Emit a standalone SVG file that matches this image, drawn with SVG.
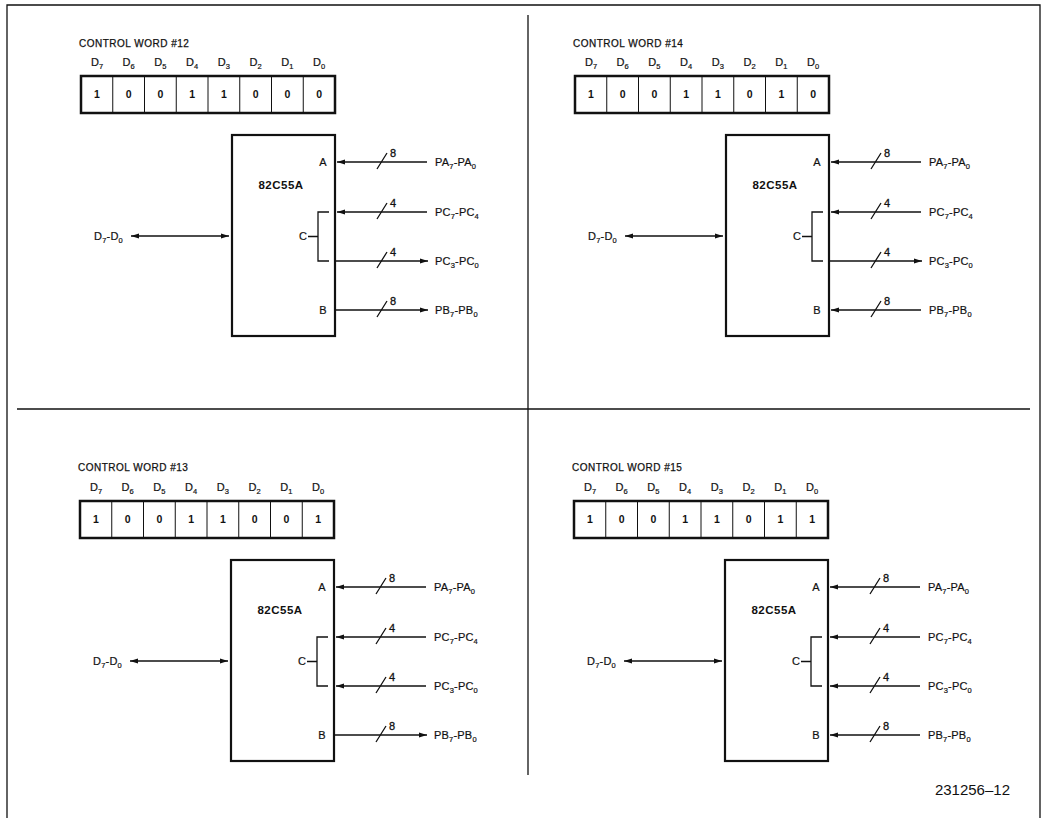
<svg xmlns="http://www.w3.org/2000/svg" width="1042" height="818" viewBox="0 0 1042 818">
<style>
text { font-family: "Liberation Sans", Arial, Helvetica, sans-serif; fill: #111; }
.title { font-size: 10px; letter-spacing: 0.5px; stroke: #111; stroke-width: 0.25px; }
.dl { font-size: 11px; text-anchor: middle; stroke: #111; stroke-width: 0.2px; }
.sub { font-size: 7.5px; }
.bit { font-size: 10.5px; font-weight: bold; text-anchor: middle; }
.chipname { font-size: 11.5px; font-weight: bold; text-anchor: middle; letter-spacing: 0.5px; }
.port { font-size: 11px; text-anchor: middle; stroke: #111; stroke-width: 0.2px; }
.num { font-size: 11px; stroke: #111; stroke-width: 0.3px; }
.pl { font-size: 11px; letter-spacing: 0.2px; stroke: #111; stroke-width: 0.2px; }
.frame { fill: none; stroke: #111; stroke-width: 1.3; }
.reg { fill: #fff; stroke: #111; stroke-width: 2.5; }
.cell { stroke: #111; stroke-width: 1; }
.chip { fill: #fff; stroke: #111; stroke-width: 2.2; }
.wire { fill: none; stroke: #111; stroke-width: 1.3; }
.arr { marker-end: url(#ah); }
.bi { marker-start: url(#ah); marker-end: url(#ah); }
</style>
<defs>
<marker id="ah" markerUnits="userSpaceOnUse" markerWidth="9" markerHeight="6" refX="8" refY="3" orient="auto-start-reverse">
<path d="M0,0.6 L8,3 L0,5.4 Z" fill="#111"/>
</marker>
<g id="regcells">
<rect class="reg" x="81" y="76" width="254" height="37"/>
<path class="cell" d="M112.75,76V113M144.5,76V113M176.25,76V113M208,76V113M239.75,76V113M271.5,76V113M303.25,76V113"/>
</g>
<g id="dlabels">
<text class="dl" x="97" y="66">D<tspan class="sub" dy="3">7</tspan></text>
<text class="dl" x="128.6" y="66">D<tspan class="sub" dy="3">6</tspan></text>
<text class="dl" x="160.4" y="66">D<tspan class="sub" dy="3">5</tspan></text>
<text class="dl" x="192.1" y="66">D<tspan class="sub" dy="3">4</tspan></text>
<text class="dl" x="223.9" y="66">D<tspan class="sub" dy="3">3</tspan></text>
<text class="dl" x="255.6" y="66">D<tspan class="sub" dy="3">2</tspan></text>
<text class="dl" x="287.4" y="66">D<tspan class="sub" dy="3">1</tspan></text>
<text class="dl" x="319.1" y="66">D<tspan class="sub" dy="3">0</tspan></text>
</g>
<g id="chipbody">
<rect class="chip" x="232" y="135" width="103" height="201"/>
<text class="chipname" x="281" y="189">82C55A</text>
<text class="port" x="323" y="166">A</text>
<text class="port" x="303" y="240">C</text>
<text class="port" x="323" y="314">B</text>
</g>
<g id="extlabels">
<text class="pl" x="94" y="240">D<tspan class="sub" dy="3">7</tspan><tspan dy="-3">-D</tspan><tspan class="sub" dy="3">0</tspan></text>
<text class="pl" x="435" y="166">PA<tspan class="sub" dy="3">7</tspan><tspan dy="-3">-PA</tspan><tspan class="sub" dy="3">0</tspan></text>
<text class="pl" x="435" y="216">PC<tspan class="sub" dy="3">7</tspan><tspan dy="-3">-PC</tspan><tspan class="sub" dy="3">4</tspan></text>
<text class="pl" x="435" y="265">PC<tspan class="sub" dy="3">3</tspan><tspan dy="-3">-PC</tspan><tspan class="sub" dy="3">0</tspan></text>
<text class="pl" x="435" y="314">PB<tspan class="sub" dy="3">7</tspan><tspan dy="-3">-PB</tspan><tspan class="sub" dy="3">0</tspan></text>
<text class="num" x="390" y="157">8</text>
<text class="num" x="390" y="207">4</text>
<text class="num" x="390" y="256">4</text>
<text class="num" x="390" y="305">8</text>
</g>
<g id="fixedwires">
<line class="wire bi" x1="131" y1="236" x2="229" y2="236"/>
<path class="wire" d="M329,212H318V261H329M308,236.5H318"/>
<path class="wire" d="M377,169L387,153M377,219L387,203M377,268L387,252M377,317L387,301"/>
</g>
</defs>

<g id="frame">
<path class="frame" d="M7,818V5H1040V818"/>
<line class="frame" x1="17" y1="409" x2="1030" y2="409"/>
<line class="frame" x1="528" y1="15" x2="528" y2="775"/>
</g>

<!-- Panel CW#12 -->
<g id="cw12" transform="translate(0,0)">
<g id="cw12-register">
<text class="title" x="79" y="47">CONTROL WORD #12</text>
<use href="#dlabels"/>
<use href="#regcells"/>
<text class="bit" x="97" y="98">1</text><text class="bit" x="128.6" y="98">0</text><text class="bit" x="160.4" y="98">0</text><text class="bit" x="192.1" y="98">1</text><text class="bit" x="223.9" y="98">1</text><text class="bit" x="255.6" y="98">0</text><text class="bit" x="287.4" y="98">0</text><text class="bit" x="319.1" y="98">0</text>
</g>
<g id="cw12-chip"><use href="#chipbody"/></g>
<g id="cw12-ports"><use href="#extlabels"/></g>
<g id="cw12-connectors">
<use href="#fixedwires"/>
<line class="wire arr" x1="427" y1="162" x2="337" y2="162"/>
<line class="wire arr" x1="427" y1="212" x2="337" y2="212"/>
<line class="wire arr" x1="335" y1="261" x2="428" y2="261"/>
<line class="wire arr" x1="335" y1="310" x2="428" y2="310"/>
</g>
</g>

<!-- Panel CW#14 -->
<g id="cw14" transform="translate(494,0)">
<g id="cw14-register">
<text class="title" x="79" y="47">CONTROL WORD #14</text>
<use href="#dlabels"/>
<use href="#regcells"/>
<text class="bit" x="97" y="98">1</text><text class="bit" x="128.6" y="98">0</text><text class="bit" x="160.4" y="98">0</text><text class="bit" x="192.1" y="98">1</text><text class="bit" x="223.9" y="98">1</text><text class="bit" x="255.6" y="98">0</text><text class="bit" x="287.4" y="98">1</text><text class="bit" x="319.1" y="98">0</text>
</g>
<g id="cw14-chip"><use href="#chipbody"/></g>
<g id="cw14-ports"><use href="#extlabels"/></g>
<g id="cw14-connectors">
<use href="#fixedwires"/>
<line class="wire arr" x1="427" y1="162" x2="337" y2="162"/>
<line class="wire arr" x1="427" y1="212" x2="337" y2="212"/>
<line class="wire arr" x1="335" y1="261" x2="428" y2="261"/>
<line class="wire arr" x1="427" y1="310" x2="337" y2="310"/>
</g>
</g>

<!-- Panel CW#13 -->
<g id="cw13" transform="translate(-1,425)">
<g id="cw13-register">
<text class="title" x="79" y="46">CONTROL WORD #13</text>
<use href="#dlabels"/>
<use href="#regcells"/>
<text class="bit" x="97" y="98">1</text><text class="bit" x="128.6" y="98">0</text><text class="bit" x="160.4" y="98">0</text><text class="bit" x="192.1" y="98">1</text><text class="bit" x="223.9" y="98">1</text><text class="bit" x="255.6" y="98">0</text><text class="bit" x="287.4" y="98">0</text><text class="bit" x="319.1" y="98">1</text>
</g>
<g id="cw13-chip"><use href="#chipbody"/></g>
<g id="cw13-ports"><use href="#extlabels"/></g>
<g id="cw13-connectors">
<use href="#fixedwires"/>
<line class="wire arr" x1="427" y1="162" x2="337" y2="162"/>
<line class="wire arr" x1="427" y1="212" x2="337" y2="212"/>
<line class="wire arr" x1="427" y1="261" x2="337" y2="261"/>
<line class="wire arr" x1="335" y1="310" x2="428" y2="310"/>
</g>
</g>

<!-- Panel CW#15 -->
<g id="cw15" transform="translate(493,425)">
<g id="cw15-register">
<text class="title" x="79" y="46">CONTROL WORD #15</text>
<use href="#dlabels"/>
<use href="#regcells"/>
<text class="bit" x="97" y="98">1</text><text class="bit" x="128.6" y="98">0</text><text class="bit" x="160.4" y="98">0</text><text class="bit" x="192.1" y="98">1</text><text class="bit" x="223.9" y="98">1</text><text class="bit" x="255.6" y="98">0</text><text class="bit" x="287.4" y="98">1</text><text class="bit" x="319.1" y="98">1</text>
</g>
<g id="cw15-chip"><use href="#chipbody"/></g>
<g id="cw15-ports"><use href="#extlabels"/></g>
<g id="cw15-connectors">
<use href="#fixedwires"/>
<line class="wire arr" x1="427" y1="162" x2="337" y2="162"/>
<line class="wire arr" x1="427" y1="212" x2="337" y2="212"/>
<line class="wire arr" x1="427" y1="261" x2="337" y2="261"/>
<line class="wire arr" x1="427" y1="310" x2="337" y2="310"/>
</g>
</g>

<text id="fig-id" x="1010" y="795" style="font-size:15px; text-anchor:end;">231256–12</text>
</svg>
